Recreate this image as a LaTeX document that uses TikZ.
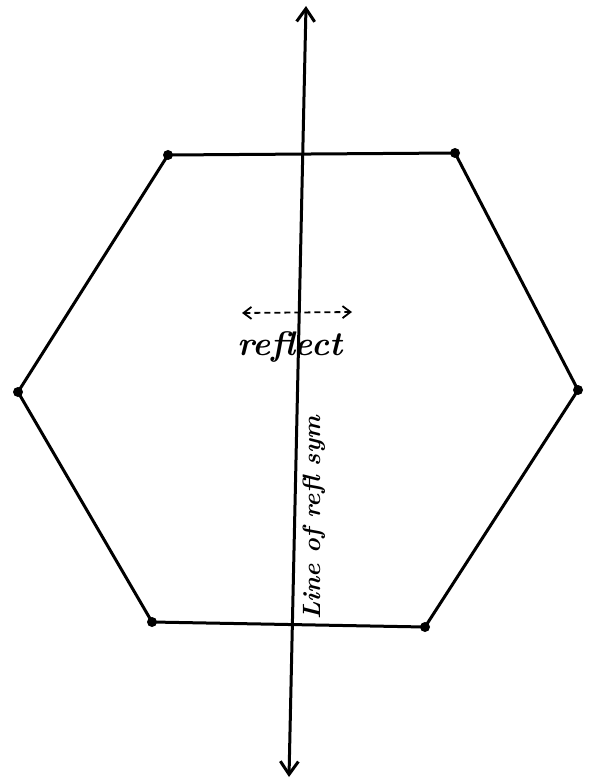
\documentclass[tikz,border=0pt]{standalone}
\usetikzlibrary{arrows.meta}

\tikzset{
  side/.style={line width=3pt},
  barb/.tip={Straight Barb[length=13pt, width=18pt, line width=3pt]},
  smallbarb/.tip={Straight Barb[length=8pt, width=12pt]},
  hand/.style={font=\fontsize{34}{36}\selectfont\bfseries\itshape},
}

\begin{document}
\begin{tikzpicture}[x=1pt, y=-1pt]
\useasboundingbox (0,0) rectangle (589,783);
% 六角形の頂点
	\coordinate (tl) at (168,155);
	\coordinate (tr) at (455,153);
	\coordinate (r)  at (578,390);
	\coordinate (br) at (425,627);
	\coordinate (bl) at (152,622);
	\coordinate (l)  at (18,392);
% 六角形
	\draw[side] (tl) -- (tr) -- (r) -- (br) -- (bl) -- (l) -- cycle;
	\foreach \p in {tl, tr, r, br, bl, l}
		\fill (\p) circle (5pt);
% 対称軸
	\coordinate (top) at (306,6);
	\coordinate (bot) at (289,777);
	\draw[side, barb-barb] (bot) -- (top);
	\node[hand, font=\fontsize{25}{27}\selectfont\bfseries\itshape, rotate=90] (axis) at (314,518) {Line of refl sym};
% 反射の矢印
	\coordinate (al) at (242,313);
	\coordinate (ar) at (352,312);
	\draw[line width=1.8pt, dash pattern=on 6pt off 4pt, smallbarb-smallbarb] (al) -- (ar);
	\node[hand] (refl) at (290,347) {reflect};
\end{tikzpicture}
\end{document}
